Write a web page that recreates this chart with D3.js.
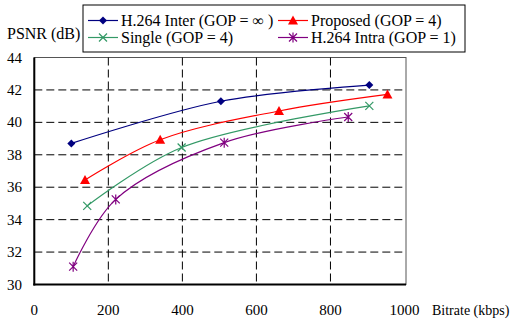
<!DOCTYPE html>
<html>
<head>
<meta charset="utf-8">
<script src="https://cdn.jsdelivr.net/npm/d3@7"></script>
<style>
  body { margin: 0; background: #fff; }
  svg { display: block; }
</style>
</head>
<body>
<div id="chart"></div>
<script>
// series (bitrate kbps, PSNR dB)
const interData = [[100, 38.7], [504, 41.3], [905, 42.3]];
const proposedData = [[137, 36.45], [340, 38.93], [661, 40.7], [954, 41.72]];
const singleData = [[143, 34.85], [398, 38.45], [905, 41.02]];
const intraData = [[105, 31.1], [220, 35.25], [513, 38.75], [848, 40.33]];

const xTicks = [0, 200, 400, 600, 800, 1000];
const yTicks = [30, 32, 34, 36, 38, 40, 42, 44];

const series = [
    { name: "H.264 Inter (GOP = \u221E )", data: interData, color: "#000080", marker: "diamond" },
    { name: "Proposed (GOP = 4)", data: proposedData, color: "#ff0000", marker: "triangle" },
    { name: "Single (GOP = 4)", data: singleData, color: "#339966", marker: "x" },
    { name: "H.264 Intra (GOP = 1)", data: intraData, color: "#800080", marker: "star" }
];

const width = 518, height = 323;
const plotLeft = 34.3, plotRight = 404.5, plotTop = 57.5, plotBottom = 284.5;
const serif = "'Liberation Serif', 'DejaVu Serif', serif";

const svg = d3.select("#chart").append("svg")
    .attr("width", width)
    .attr("height", height)
    .attr("font-family", serif);

const x = d3.scaleLinear().domain([0, 1000]).range([plotLeft, plotRight]);
const y = d3.scaleLinear().domain([30, 44]).range([plotBottom, plotTop]);

// plot frame (top / right thin)
svg.append("rect")
    .attr("x", plotLeft).attr("y", plotTop)
    .attr("width", plotRight + 1.5 - plotLeft).attr("height", plotBottom - plotTop)
    .attr("fill", "none").attr("stroke", "#555").attr("stroke-width", 1);

// dashed grid
svg.append("g").selectAll("line")
    .data(xTicks.filter(d => d > 0 && d < 1000))
    .enter().append("line")
    .attr("x1", d => x(d)).attr("x2", d => x(d))
    .attr("y1", plotTop).attr("y2", plotBottom)
    .attr("stroke", "#000").attr("stroke-width", 1)
    .attr("stroke-dasharray", "8,4");

svg.append("g").selectAll("line")
    .data(yTicks.filter(d => d > 30 && d < 44))
    .enter().append("line")
    .attr("x1", plotLeft).attr("x2", plotRight + 1.5)
    .attr("y1", d => y(d)).attr("y2", d => y(d))
    .attr("stroke", "#000").attr("stroke-width", 1)
    .attr("stroke-dasharray", "8,4");

// heavy left and bottom axes
svg.append("line")
    .attr("x1", plotLeft).attr("x2", plotLeft).attr("y1", plotTop).attr("y2", plotBottom + 1)
    .attr("stroke", "#000").attr("stroke-width", 2);
svg.append("line")
    .attr("x1", plotLeft - 1).attr("x2", plotRight + 1.5).attr("y1", plotBottom).attr("y2", plotBottom)
    .attr("stroke", "#000").attr("stroke-width", 2);

// tick labels
svg.append("g").selectAll("text")
    .data(yTicks)
    .enter().append("text")
    .attr("x", 22)
    .attr("y", d => y(d))
    .attr("text-anchor", "end")
    .attr("dominant-baseline", "central")
    .style("font-size", "15px")
    .text(d => d);

svg.append("g").selectAll("text")
    .data(xTicks)
    .enter().append("text")
    .attr("x", d => x(d))
    .attr("y", 310)
    .attr("text-anchor", "middle")
    .attr("dominant-baseline", "central")
    .style("font-size", "15px")
    .text(d => d);

svg.append("text")
    .attr("x", 432).attr("y", 310)
    .attr("dominant-baseline", "central")
    .style("font-size", "14px")
    .text("Bitrate (kbps)");

svg.append("text")
    .attr("x", 7).attr("y", 33)
    .attr("dominant-baseline", "central")
    .style("font-size", "16px")
    .text("PSNR (dB)");

// markers
function drawMarker(g, type, cx, cy, color) {
    if (type === "diamond") {
        g.append("path")
            .attr("d", `M${cx},${cy - 4}L${cx + 4},${cy}L${cx},${cy + 4}L${cx - 4},${cy}Z`)
            .attr("fill", color);
    } else if (type === "triangle") {
        g.append("path")
            .attr("d", `M${cx},${cy - 5}L${cx + 5},${cy + 4}L${cx - 5},${cy + 4}Z`)
            .attr("fill", color);
    } else if (type === "x") {
        g.append("path")
            .attr("d", `M${cx - 4},${cy - 4}L${cx + 4},${cy + 4}M${cx - 4},${cy + 4}L${cx + 4},${cy - 4}`)
            .attr("stroke", color).attr("stroke-width", 1.2).attr("fill", "none");
    } else if (type === "star") {
        g.append("path")
            .attr("d", `M${cx - 4},${cy - 4}L${cx + 4},${cy + 4}M${cx - 4},${cy + 4}L${cx + 4},${cy - 4}M${cx},${cy - 5}L${cx},${cy + 5}`)
            .attr("stroke", color).attr("stroke-width", 1.2).attr("fill", "none");
    }
}

const line = d3.line()
    .x(d => x(d[0]))
    .y(d => y(d[1]))
    .curve(d3.curveCatmullRom.alpha(0.5));

series.forEach(s => {
    svg.append("path")
        .datum(s.data)
        .attr("d", line)
        .attr("fill", "none")
        .attr("stroke", s.color)
        .attr("stroke-width", 1.2);
    const g = svg.append("g");
    s.data.forEach(d => drawMarker(g, s.marker, x(d[0]), y(d[1]), s.color));
});

// legend
const legend = svg.append("g");
legend.append("rect")
    .attr("x", 83).attr("y", 5)
    .attr("width", 382).attr("height", 47)
    .attr("fill", "#fff").attr("stroke", "#000").attr("stroke-width", 1);

const legendPos = [
    { x: 88, y: 20.5 },
    { x: 278, y: 20.5 },
    { x: 88, y: 37.5 },
    { x: 278, y: 37.5 }
];
// order: Inter, Proposed, Single, Intra
series.forEach((s, i) => {
    const p = legendPos[i];
    legend.append("line")
        .attr("x1", p.x).attr("x2", p.x + 30)
        .attr("y1", p.y).attr("y2", p.y)
        .attr("stroke", s.color).attr("stroke-width", 1.2);
    drawMarker(legend, s.marker, p.x + 15, p.y, s.color);
    legend.append("text")
        .attr("x", p.x + 33)
        .attr("y", p.y)
        .attr("dominant-baseline", "central")
        .style("font-size", "16px")
        .text(s.name);
});
</script>
</body>
</html>
